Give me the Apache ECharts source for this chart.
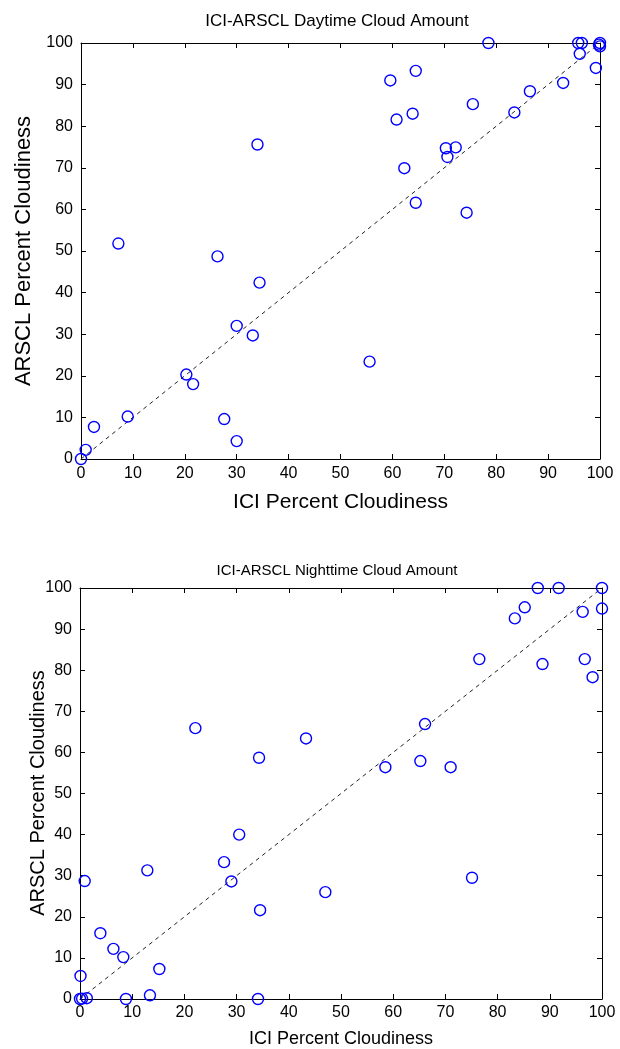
<!DOCTYPE html>
<html>
<head>
<meta charset="utf-8">
<script src="https://cdn.jsdelivr.net/npm/echarts@6/dist/echarts.min.js"></script>
<style>html,body{margin:0;padding:0;background:#fff;}#c{width:620px;height:1049px;}</style>
</head>
<body>
<div id="c"></div>
<script>
// Daytime: ICI (x) vs ARSCL (y)
const dayICI = [0, 0.9, 2.5, 7.2, 9.0, 20.3, 21.6, 26.3, 27.6, 30.0, 30.0, 33.1, 34.0, 34.4, 55.6,
  59.6, 60.8, 62.3, 63.9, 64.5, 64.5, 70.3, 70.6, 72.2, 74.3, 75.5, 78.5, 83.5, 86.5, 92.9,
  95.8, 96.5, 96.1, 99.2, 100, 100, 99.8];
const dayARSCL = [0, 2.2, 7.7, 51.8, 10.2, 20.3, 18.0, 48.7, 9.6, 4.3, 32.0, 29.7, 75.6, 42.4, 23.4,
  91.0, 81.6, 69.9, 83.0, 93.3, 61.6, 74.7, 72.6, 74.9, 59.2, 85.3, 100, 83.3, 88.4, 90.4,
  100, 100, 97.4, 94.0, 100, 99.2, 99.6];
// Nighttime
const nightICI = [22.1, 34.3, 43.3, 87.7, 91.7, 100, 85.2, 83.3, 96.3, 100, 76.5, 88.6, 96.7, 98.2,
  66.1, 58.5, 65.2, 71.0, 30.5, 27.6, 29.0, 12.9, 0.9, 47.0, 34.5, 3.9, 6.4, 8.3, 15.2, 0.1,
  0, 1.3, 0.4, 8.8, 13.4, 34.1, 75.1];
const nightARSCL = [65.9, 58.7, 63.4, 100, 100, 100, 95.3, 92.6, 94.2, 95.0, 82.7, 81.5, 82.7, 78.3,
  66.9, 56.4, 57.9, 56.4, 40.0, 33.3, 28.6, 31.3, 28.7, 26.0, 21.6, 16.0, 12.2, 10.2, 7.3, 5.6,
  0, 0.2, 0.1, 0, 0.9, 0, 29.5];
const diagLine = [0, 100];
const titles = ['ICI-ARSCL Daytime Cloud Amount', 'ICI-ARSCL Nighttime Cloud Amount'];
const xName = 'ICI Percent Cloudiness';
const yName = 'ARSCL Percent Cloudiness';

const FONT = '"Liberation Sans", Arial, sans-serif';
const pairs = (xs, ys) => xs.map((x, i) => [x, ys[i]]);

function mainX(gi, nameGap, nameSize, labelMargin) {
  return {
    gridIndex: gi, type: 'value', min: 0, max: 100, interval: 10,
    name: xName, nameLocation: 'middle', nameGap: nameGap,
    nameTextStyle: { fontFamily: FONT, fontSize: nameSize, color: '#000' },
    axisLine: { show: true, onZero: false, lineStyle: { color: '#000', width: 1 } },
    axisTick: { show: true, inside: true, length: 5, lineStyle: { color: '#000' } },
    axisLabel: { fontFamily: FONT, fontSize: 16, color: '#000', margin: labelMargin, showMinLabel: true, showMaxLabel: true },
    splitLine: { show: false }
  };
}
function sideX(gi) {
  return {
    gridIndex: gi, type: 'value', min: 0, max: 100, interval: 10, position: 'top',
    axisLine: { show: true, onZero: false, lineStyle: { color: '#000', width: 1 } },
    axisTick: { show: true, inside: true, length: 5, lineStyle: { color: '#000' } },
    axisLabel: { show: false }, splitLine: { show: false }
  };
}
function mainY(gi) {
  return {
    gridIndex: gi, type: 'value', min: 0, max: 100, interval: 10,
    axisLine: { show: true, onZero: false, lineStyle: { color: '#000', width: 1 } },
    axisTick: { show: true, inside: true, length: 5, lineStyle: { color: '#000' } },
    axisLabel: { fontFamily: FONT, fontSize: 16, color: '#000', margin: 8, showMinLabel: true, showMaxLabel: true },
    splitLine: { show: false }
  };
}
function sideY(gi) {
  return {
    gridIndex: gi, type: 'value', min: 0, max: 100, interval: 10, position: 'right',
    axisLine: { show: true, onZero: false, lineStyle: { color: '#000', width: 1 } },
    axisTick: { show: true, inside: true, length: 5, lineStyle: { color: '#000' } },
    axisLabel: { show: false }, splitLine: { show: false }
  };
}
function scatter(gi, data) {
  return {
    type: 'scatter', xAxisIndex: gi * 2, yAxisIndex: gi * 2, data: data,
    symbol: 'circle', symbolSize: 11,
    itemStyle: { color: 'rgba(0,0,0,0)', borderColor: '#0000ff', borderWidth: 1.4, opacity: 1 },
    silent: true, z: 3
  };
}
function diag(gi) {
  return {
    type: 'line', xAxisIndex: gi * 2, yAxisIndex: gi * 2,
    data: pairs(diagLine, diagLine), symbol: 'none', silent: true,
    lineStyle: { color: '#222', width: 1, type: [4, 4] }, z: 2
  };
}

function label(text, x, y, size, rot) {
  return { type: 'text', x: x, y: y, rotation: rot, silent: true,
    style: { text: text, font: size + 'px ' + FONT, fill: '#000', textAlign: 'center', textVerticalAlign: 'middle' } };
}

const chart = echarts.init(document.getElementById('c'), null, { renderer: 'canvas' });
chart.setOption({
  backgroundColor: '#fff',
  animation: false,
  grid: [
    { left: 81, top: 43, width: 519, height: 416 },
    { left: 80, top: 588, width: 522, height: 411 }
  ],
  xAxis: [mainX(0, 33, 21, 7), sideX(0), mainX(1, 31, 18, 6), sideX(1)],
  yAxis: [mainY(0), sideY(0), mainY(1), sideY(1)],
  series: [diag(0), scatter(0, pairs(dayICI, dayARSCL)), diag(1), scatter(1, pairs(nightICI, nightARSCL))],
  graphic: [
    label(titles[0], 337, 21, 17, 0),
    label(titles[1], 337, 571, 15, 0),
    label(yName, 24, 251, 22, Math.PI / 2),
    label(yName, 38, 793, 20, Math.PI / 2)
  ]
});
</script>
</body>
</html>
